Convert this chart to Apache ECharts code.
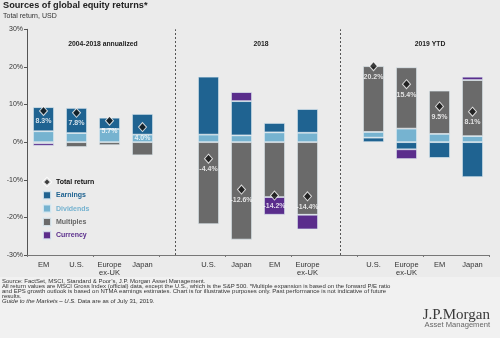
<!DOCTYPE html>
<html>
<head>
<meta charset="utf-8">
<script src="https://cdn.jsdelivr.net/npm/echarts@6/dist/echarts.min.js"></script>
<style>
  html, body { margin: 0; padding: 0; background: #ebebeb; }
  #chart { width: 500px; height: 338px; }
</style>
</head>
<body>
<div id="chart"></div>
<script>
// Regions in three periods; empty slots separate the periods.
const categories = ['EM', 'U.S.', 'Europe\nex-UK', 'Japan', '',
                    'U.S.', 'Japan', 'EM', 'Europe\nex-UK', '',
                    'U.S.', 'Europe\nex-UK', 'EM', 'Japan'];
const periodTitles = ['2004-2018 annualized', '2018', '2019 YTD'];

// Return components, % (null = empty slot)
const earnings   = [6.4, 6.7, 3.0, 5.5, null, 15.4, 9.1, 2.5, 6.3, null, 1.2, -1.9, -4.2, -9.3];
const dividends  = [2.9, 2.4, 3.5, 2.0, null, 2.0, 1.8, 2.6, 2.5, null, 1.5, 3.6, 2.2, 1.6];
const multiples  = [-0.3, -1.3, -0.8, -3.5, null, -21.8, -25.9, -14.6, -19.3, null, 17.5, 16.3, 11.5, 14.9];
const currency   = [-0.7, 0, 0, 0, null, 0, 2.4, -4.7, -3.9, null, 0, -2.6, 0, 0.9];
const totalReturn = [8.3, 7.8, 5.7, 4.0, null, -4.4, -12.6, -14.2, -14.4, null, 20.2, 15.4, 9.5, 8.1];

// In the 2019 YTD period earnings sit beneath dividends in the stack.
const earningsBelowDividends = [false, false, true];

const yTicks = { min: -30, max: 30, interval: 10 };

const COLORS = {
  earnings: '#1f6391',
  dividends: '#76b3d0',
  multiples: '#6a6a6a',
  currency: '#5a2d8c',
  total: '#111111'
};

function periodOf(i) { return i < 4 ? 0 : (i < 9 ? 1 : 2); }
const dividendsBase = dividends.map((v, i) => (v === null || earningsBelowDividends[periodOf(i)]) ? '-' : v);
const dividendsUpper = dividends.map((v, i) => (v !== null && earningsBelowDividends[periodOf(i)]) ? v : '-');
const clean = arr => arr.map(v => (v === null || v === 0) ? '-' : v);

const barBase = {
  type: 'bar',
  stack: 'returns',
  barWidth: 21,
  xAxisIndex: 0,
  itemStyle: { borderColor: 'rgba(225,236,242,0.85)', borderWidth: 0.8 }
};

const chart = echarts.init(document.getElementById('chart'), null, { renderer: 'canvas' });

const FOOT_FONT = '6px "Liberation Sans", Arial, sans-serif';
const FOOT_Y0 = 281;
const FOOT_STEP = 5.2;
const footLines = [
  'Source: FactSet, MSCI, Standard & Poor\u2019s, J.P. Morgan Asset Management.',
  'All return values are MSCI Gross Index (official) data, except the U.S., which is the S&P 500. *Multiple expansion is based on the forward P/E ratio',
  'and EPS growth outlook is based on NTMA earnings estimates. Chart is for illustrative purposes only. Past performance is not indicative of future',
  'results.'
];

const graphics = [
  { type: 'rect', left: 0, top: 277, shape: { width: 500, height: 61 }, style: { fill: '#f1f1f1' }, silent: true },
  { type: 'text', left: 3, top: 1, style: { text: 'Sources of global equity returns*', font: 'bold 9.2px "Liberation Sans", Arial, sans-serif', fill: '#222' } },
  { type: 'text', left: 3, top: 13, style: { text: 'Total return, USD', font: '7px "Liberation Sans", Arial, sans-serif', fill: '#333' } }
];
const titleX = [103, 261, 430];
periodTitles.forEach((t, k) => {
  graphics.push({ type: 'text', x: titleX[k], y: 44, style: { text: t, font: 'bold 6.8px "Liberation Sans", Arial, sans-serif', fill: '#222', align: 'center', verticalAlign: 'middle' } });
});
footLines.forEach((t, k) => {
  graphics.push({ type: 'text', x: 2, y: FOOT_Y0 + k * FOOT_STEP, style: { text: t, font: FOOT_FONT, fill: '#333', verticalAlign: 'middle' } });
});
graphics.push({
  type: 'text', x: 2, y: FOOT_Y0 + 4 * FOOT_STEP,
  style: {
    text: '{i|Guide to the Markets \u2013 U.S.} Data are as of July 31, 2019.',
    font: FOOT_FONT, fill: '#333', verticalAlign: 'middle',
    rich: { i: { fontStyle: 'italic', fontSize: 6, fill: '#333' } }
  }
});
graphics.push({ type: 'text', x: 490, y: 315, style: { text: 'J.P.Morgan', font: '15px "Liberation Serif", "Times New Roman", serif', fill: '#3a3a3a', align: 'right', verticalAlign: 'middle' } });
graphics.push({ type: 'text', x: 490, y: 325, style: { text: 'Asset Management', font: '7.6px "Liberation Sans", Arial, sans-serif', fill: '#666', align: 'right', verticalAlign: 'middle' } });

chart.setOption({
  backgroundColor: '#ebebeb',
  animation: false,
  textStyle: { fontFamily: '"Liberation Sans", Arial, sans-serif' },
  graphic: graphics,
  grid: { left: 27, right: 11, top: 29.3, bottom: 83 },
  legend: {
    orient: 'vertical',
    left: 37,
    top: 172,
    itemWidth: 8,
    itemHeight: 8,
    itemGap: 3.3,
    textStyle: { fontSize: 7, fontWeight: 'bold' },
    data: [
      { name: 'Total return', textStyle: { color: '#111' } },
      { name: 'Earnings', icon: 'rect', textStyle: { color: COLORS.earnings } },
      { name: 'Dividends', icon: 'rect', textStyle: { color: COLORS.dividends } },
      { name: 'Multiples', icon: 'rect', textStyle: { color: '#666' } },
      { name: 'Currency', icon: 'rect', textStyle: { color: COLORS.currency } }
    ]
  },
  xAxis: [
    {
      type: 'category', data: categories, position: 'bottom',
      axisLine: { show: false }, axisTick: { show: false },
      axisLabel: { interval: 0, fontSize: 7.5, color: '#333', margin: 6, lineHeight: 8 }
    },
    {
      type: 'category', data: categories, position: 'bottom',
      axisLine: { onZero: true, lineStyle: { color: '#777', width: 1 } },
      axisTick: { show: true, length: 2, lineStyle: { color: '#777' } },
      axisLabel: { show: false }
    }
  ],
  yAxis: {
    type: 'value', min: yTicks.min, max: yTicks.max, interval: yTicks.interval,
    axisLine: { show: true, lineStyle: { color: '#555' } },
    axisTick: { show: true, length: 3, lineStyle: { color: '#555' } },
    splitLine: { show: false },
    axisLabel: { fontSize: 7, color: '#333', margin: 4, formatter: v => v + '%' }
  },
  series: [
    Object.assign({}, barBase, { name: 'Dividends', data: dividendsBase, itemStyle: Object.assign({}, barBase.itemStyle, { color: COLORS.dividends }) }),
    Object.assign({}, barBase, { name: 'Earnings', data: clean(earnings), itemStyle: Object.assign({}, barBase.itemStyle, { color: COLORS.earnings }) }),
    Object.assign({}, barBase, { name: 'Dividends', data: dividendsUpper, itemStyle: Object.assign({}, barBase.itemStyle, { color: COLORS.dividends }) }),
    Object.assign({}, barBase, { name: 'Multiples', data: clean(multiples), itemStyle: Object.assign({}, barBase.itemStyle, { color: COLORS.multiples }) }),
    Object.assign({}, barBase, {
      name: 'Currency', data: clean(currency), itemStyle: Object.assign({}, barBase.itemStyle, { color: COLORS.currency }),
      markLine: {
        silent: true, symbol: 'none', label: { show: false },
        lineStyle: { color: '#555', type: [2, 2], width: 1 },
        data: [{ xAxis: 4 }, { xAxis: 9 }]
      }
    }),
    {
      name: 'Total return', type: 'scatter', xAxisIndex: 0,
      symbol: 'diamond', symbolSize: [8, 9],
      data: totalReturn.map(v => v === null ? '-' : v),
      itemStyle: { color: COLORS.total, borderColor: '#ffffff', borderWidth: 1 },
      z: 5,
      label: {
        show: true, position: 'bottom', distance: 2,
        formatter: p => Number(p.value).toFixed(1) + '%',
        color: '#ffffff', fontSize: 7, fontWeight: 'bold'
      }
    }
  ]
});
</script>
</body>
</html>
